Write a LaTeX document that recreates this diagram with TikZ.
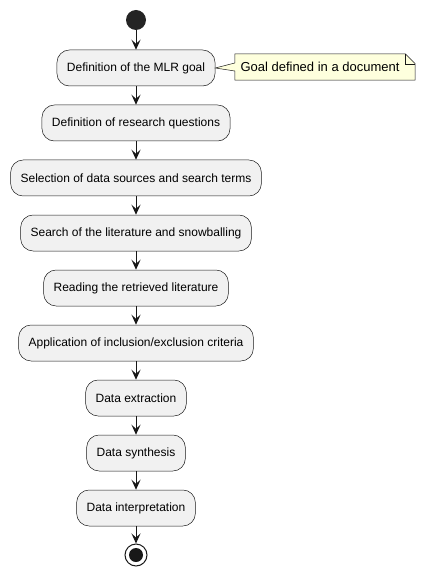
\documentclass[tikz,border=0pt]{standalone}
\usepackage{fontspec}
\setmainfont{Liberation Sans}
\usetikzlibrary{arrows.meta}
\definecolor{actfill}{HTML}{F1F1F1}
\definecolor{linecol}{HTML}{181818}
\definecolor{notefill}{HTML}{FEFFDD}
\begin{document}
\begin{tikzpicture}[x=1pt,y=-1pt]
\tikzstyle{act}=[draw=linecol,line width=0.5pt,fill=actfill,rounded corners=12.5pt,minimum height=36pt,inner xsep=10pt,font=\fontsize{12}{14}\selectfont]
\tikzstyle{flow}=[draw=linecol,line width=1pt,-{Stealth[length=10pt,width=9pt,inset=4pt]}]
\useasboundingbox (0,0) rectangle (426,577);
\node[circle,fill=linecol!95,minimum size=20pt,inner sep=0pt](start) at (136,20) {};
\node[act](a1) at (136,68) {Definition of the MLR goal};
\node[act](a2) at (136,123) {Definition of research questions};
\node[act](a3) at (136,178) {Selection of data sources and search terms};
\node[act](a4) at (136,233) {Search of the literature and snowballing};
\node[act](a5) at (136,288) {Reading the retrieved literature};
\node[act](a6) at (136,343) {Application of inclusion/exclusion criteria};
\node[act](a7) at (136,398) {Data extraction};
\node[act](a8) at (136,453) {Data synthesis};
\node[act](a9) at (136,508) {Data interpretation};
\node[circle,draw=linecol,line width=1pt,fill=white,minimum size=22pt,inner sep=0pt](stop) at (136,555) {};
\fill[linecol] (stop.center) circle (7pt);
\draw[flow] (start) -- (a1);
\draw[flow] (a1) -- (a2);
\draw[flow] (a2) -- (a3);
\draw[flow] (a3) -- (a4);
\draw[flow] (a4) -- (a5);
\draw[flow] (a5) -- (a6);
\draw[flow] (a6) -- (a7);
\draw[flow] (a7) -- (a8);
\draw[flow] (a8) -- (a9);
\draw[flow] (a9) -- (stop);
% note
\node[minimum width=180pt,minimum height=26pt,inner sep=0pt](note) at (325,67) {};
\draw[draw=linecol,line width=0.5pt,fill=notefill] (note.north west) -- ([xshift=-10pt]note.north east) -- ([yshift=-10pt]note.north east) -- (note.south east) -- (note.south west) -- ([yshift=-4pt]note.west) -- (a1.east) -- ([yshift=4pt]note.west) -- cycle;
\draw[draw=linecol,line width=0.5pt] ([xshift=-10pt]note.north east) -- ([xshift=-10pt,yshift=-10pt]note.north east) -- ([yshift=-10pt]note.north east);
\node[font=\fontsize{13}{15}\selectfont,inner sep=0pt](notetext) at ([xshift=-5pt]note.center) {Goal defined in a document};
\end{tikzpicture}
\end{document}
